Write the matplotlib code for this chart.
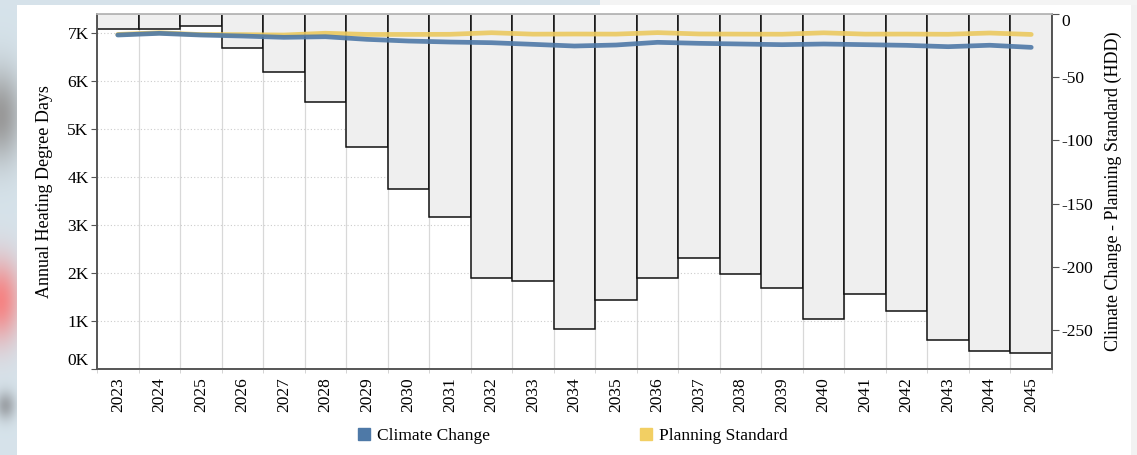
import numpy as np
import matplotlib.pyplot as plt
from matplotlib.lines import Line2D

plt.rcParams['font.family'] = ['Liberation Serif', 'DejaVu Serif']

years = [str(y) for y in range(2023, 2046)]

# annual heating degree days
climate_change = [6958, 6993, 6958, 6937, 6910, 6923, 6868, 6833, 6812, 6798, 6764, 6729,
                  6750, 6806, 6785, 6771, 6757, 6771, 6757, 6743, 6715, 6745, 6701]
planning_standard = [6970, 7005, 6967, 6966, 6958, 6995, 6970, 6970, 6973, 7006, 6976, 6979,
                     6977, 7008, 6980, 6977, 6975, 7004, 6977, 6978, 6974, 7000, 6970]
# climate change minus planning standard (HDD)
difference = [-12, -11.6, -9.2, -27, -45.7, -69.3, -105, -138.4, -160.6, -209, -211.4, -249.5,
              -226.5, -209, -193, -206, -217, -241.6, -221.8, -235, -258.3, -266.8, -268.4]

left_ticks = [0, 1000, 2000, 3000, 4000, 5000, 6000, 7000]
left_labels = ['0K', '1K', '2K', '3K', '4K', '5K', '6K', '7K']
right_ticks = [0, -50, -100, -150, -200, -250]

fig = plt.figure(figsize=(11.37, 4.55), dpi=100)
fig.patch.set_facecolor('#d6e3ea')

# blurred page behind the card on the left edge
bg = fig.add_axes([0, 0, 1, 1], zorder=-10)
bg.set_axis_off()
h, w = 455, 1137
yy, xx = np.mgrid[0:h, 0:w]
img = np.ones((h, w, 3)) * np.array([0.84, 0.89, 0.92])
for cy, cx, ry, rx, col in [(115, 0, 45, 22, (0.60, 0.60, 0.60)),
                            (300, 0, 40, 20, (0.96, 0.52, 0.52)),
                            (405, 5, 14, 10, (0.62, 0.64, 0.66))]:
    g = np.exp(-(((yy - cy) / ry) ** 2 + ((xx - cx) / rx) ** 2))[..., None]
    img = img * (1 - g) + np.array(col) * g
img[:, 1131:] = [0.95, 0.95, 0.95]
img[:5, 600:] = [0.96, 0.96, 0.96]
img[5:, 17:1131] = 1.0
bg.imshow(img, extent=[0, 1, 0, 1], aspect='auto', interpolation='bilinear')

ax = fig.add_axes([97 / 1137, 1 - 369 / 455, 955 / 1137, 355 / 455])
ax2 = ax.twinx()

x = np.arange(len(years))

# differences hang down from zero on the right-hand scale
ax2.bar(x, difference, width=1.0, color='#efefef', edgecolor='#111111', linewidth=1.1)
ax2.set_ylim(-281, 0)
ax2.set_yticks(right_ticks)
ax2.set_yticklabels([str(t) for t in right_ticks])
ax2.get_yticklabels()[0].set_va('top')
ax2.tick_params(axis='y', labelsize=12.5, length=5, color='#555555', pad=2)
ax2.set_ylabel('Climate Change - Planning Standard (HDD)', fontsize=13, labelpad=8)

# lines above bars
ax.set_zorder(ax2.get_zorder() + 1)
ax.patch.set_visible(False)
ax2.set_facecolor('white')

ax.plot(x, planning_standard, color='#ebc95e', lw=3.4, alpha=0.9, solid_capstyle='round')
ax.plot(x, climate_change, color='#4e79a7', lw=3.4, alpha=0.9, solid_capstyle='round')

ax.set_xlim(-0.5, len(years) - 0.5)
ax.set_ylim(0, 7396)
ax.set_yticks(left_ticks)
ax.set_yticklabels(left_labels)
ax.get_yticklabels()[0].set_va('bottom')
ax.tick_params(axis='y', labelsize=12.5, length=4, color='#555555', pad=2)
ax.set_ylabel('Annual Heating Degree Days', fontsize=13, labelpad=10)

ax.set_xticks(x)
ax.set_xticklabels(years, rotation=90, fontsize=12.5)
ax.tick_params(axis='x', length=0, pad=6)
ax.set_xticks(np.arange(len(years) + 1) - 0.5, minor=True)
ax.tick_params(axis='x', which='minor', length=3, color='#cccccc')

# grid: vertical at category boundaries, dotted horizontal at left ticks
for b in np.arange(1, len(years)) - 0.5:
    ax2.axvline(b, color='#d8d8d8', lw=0.9, zorder=-1)
for t in left_ticks[1:]:
    ax2.axhline(-281 * (1 - t / 7396), color='#cccccc', lw=0.8, ls=(0, (1, 2)), zorder=0.5)

for a in (ax, ax2):
    a.spines['left'].set_color('#555555')
    a.spines['bottom'].set_color('#555555')
    a.spines['right'].set_color('#555555')
    a.spines['top'].set_color('#bbbbbb')
    for s in a.spines.values():
        s.set_linewidth(1.2)

handles = [Line2D([], [], ls='none', marker='s', markersize=9, color='#4e79a7'),
           Line2D([], [], ls='none', marker='s', markersize=9, color='#f2cf63')]
fig.legend(handles, ['Climate Change', 'Planning Standard'], loc='center',
           bbox_to_anchor=(573 / 1137, 1 - 436 / 455), ncol=2, frameon=False,
           fontsize=12.5, handlelength=0.7, handletextpad=0.4, columnspacing=8.6)

fig.savefig('out.png', dpi=100, facecolor=fig.get_facecolor())
